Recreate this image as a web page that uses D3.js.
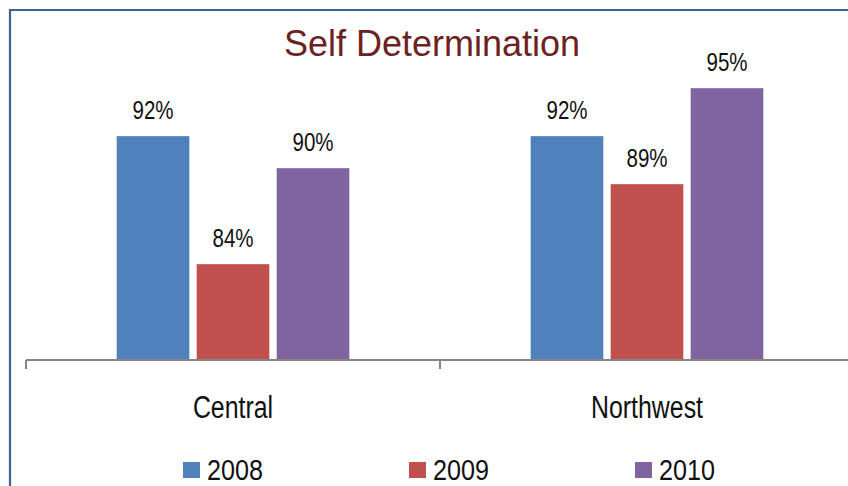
<!DOCTYPE html>
<html>
<head>
<meta charset="utf-8">
<script src="https://cdn.jsdelivr.net/npm/d3@7"></script>
<style>
  html, body { margin: 0; padding: 0; background: #fff; }
  svg { display: block; }
  text { font-family: "Liberation Sans", Arial, sans-serif; }
</style>
</head>
<body>
<svg id="chart" width="848" height="486"></svg>
<script>
const categories = ["Central", "Northwest"];
const seriesNames = ["2008", "2009", "2010"];
const values2008 = [92, 92];
const values2009 = [84, 89];
const values2010 = [90, 95];
const seriesColors = ["#4F81BD", "#C0504D", "#8064A2"];
const seriesValues = [values2008, values2009, values2010];

const svg = d3.select("#chart");
const W = 848, H = 486;
const baseY = 360;
const NARROW = 0.79; // horizontal squeeze for the condensed label face

// Places condensed text with its anchor point at (x, y)
function narrowText(sel, x, y, size, anchor, str, squeeze) {
  return sel.append("text")
    .attr("transform", `translate(${x},${y}) scale(${squeeze || NARROW},1)`)
    .attr("text-anchor", anchor)
    .attr("fill", "#111")
    .style("font-size", size + "px")
    .text(str);
}

// Chart frame (left and top edges visible)
svg.append("line").attr("x1", 10).attr("x2", 10).attr("y1", 9).attr("y2", H)
  .attr("stroke", "#3D6190").attr("stroke-width", 2.2);
svg.append("line").attr("x1", 9).attr("x2", W).attr("y1", 10).attr("y2", 10)
  .attr("stroke", "#3D6190").attr("stroke-width", 2.2);

// Title
svg.append("text")
  .attr("x", 432).attr("y", 56)
  .attr("text-anchor", "middle")
  .attr("fill", "#6B2222")
  .style("font-size", "36px")
  .text("Self Determination");

// Scales
const x0 = d3.scaleBand().domain(categories).range([26, 854]).paddingInner(0).paddingOuter(0);
const y = d3.scaleLinear().domain([78, 100]).range([baseY, baseY - 22 * 16]);
const barW = 73, gap = 7;
const groupW = seriesNames.length * barW + (seriesNames.length - 1) * gap;
const x1 = d3.scaleBand().domain(seriesNames).range([0, groupW]).paddingInner(gap / (barW + gap)).paddingOuter(0);

// Bars and value labels
seriesNames.forEach((s, si) => {
  const g = svg.append("g");
  categories.forEach((c, ci) => {
    const v = seriesValues[si][ci];
    const bx = x0(c) + (x0.bandwidth() - groupW) / 2 + x1(s);
    g.append("rect")
      .attr("x", bx).attr("y", y(v))
      .attr("width", x1.bandwidth()).attr("height", baseY - y(v))
      .attr("fill", seriesColors[si])
      .attr("stroke", "rgba(255,255,255,0.35)").attr("stroke-width", 1);
    narrowText(g, bx + x1.bandwidth() / 2, y(v) - 17.5, 26, "middle", v + "%");
  });
});

// Category axis
const axG = svg.append("g").attr("transform", `translate(0,${baseY})`);
axG.append("line").attr("x1", 26).attr("x2", W).attr("y1", 0).attr("y2", 0)
  .attr("stroke", "#868686").attr("stroke-width", 2);
const tickPos = [x0.range()[0], ...categories.slice(1).map(c => x0(c))];
axG.selectAll("line.tick").data(tickPos).enter().append("line")
  .attr("class", "tick")
  .attr("x1", d => d).attr("x2", d => d).attr("y1", 0).attr("y2", 9)
  .attr("stroke", "#868686").attr("stroke-width", 2);
categories.forEach(c => {
  narrowText(axG, x0(c) + x0.bandwidth() / 2, 58, 31.5, "middle", c);
});

// Legend
const legendX = [183, 409, 635];
const lg = svg.append("g");
seriesNames.forEach((s, i) => {
  lg.append("rect").attr("x", legendX[i]).attr("y", 462).attr("width", 17).attr("height", 16)
    .attr("fill", seriesColors[i]);
  narrowText(lg, legendX[i] + 24, 480, 30, "start", s, 0.84);
});
</script>
</body>
</html>
